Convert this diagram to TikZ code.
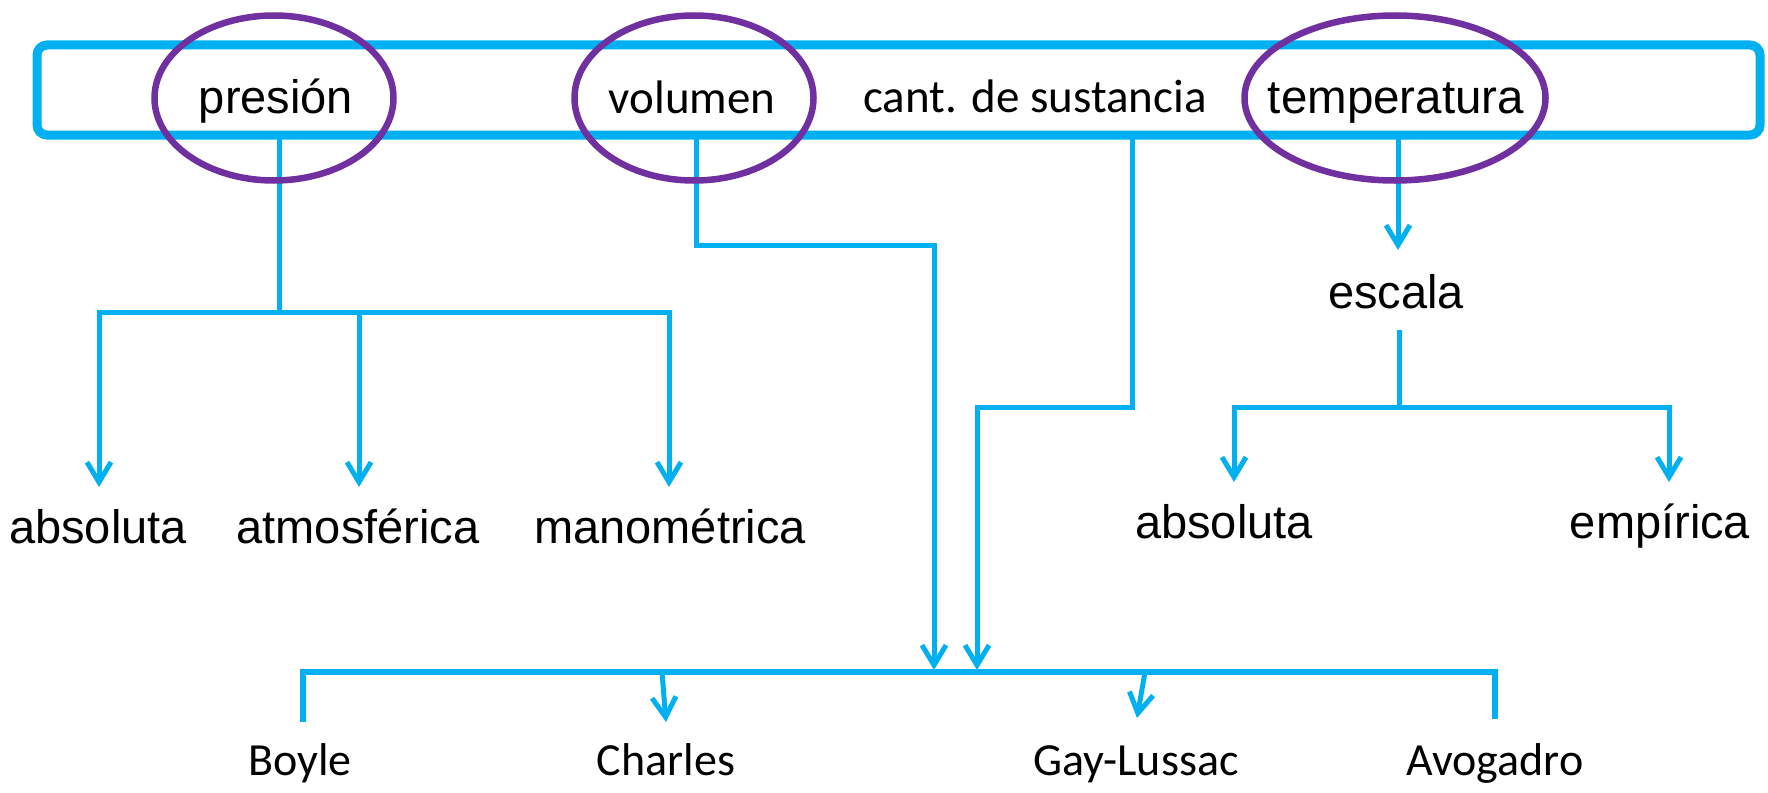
\documentclass[tikz,border=0pt]{standalone}
\usepackage{fontspec}
\setmainfont{Liberation Sans}
\newfontfamily\calibri{Carlito}
\usetikzlibrary{arrows.meta,shapes.geometric}
\definecolor{cyanline}{HTML}{00B0F0}
\definecolor{purpring}{HTML}{7030A0}
\tikzset{
  conn/.style={draw=cyanline, line width=5pt},
  arr/.style={conn, -{Straight Barb[length=20pt,width=24pt]}},
  arrboth/.style={conn, {Straight Barb[length=20pt,width=24pt]}-{Straight Barb[length=20pt,width=24pt]}},
  ring/.style={draw=purpring, line width=6.5pt, ellipse, inner sep=0pt},
  arialtxt/.style={font=\fontsize{47}{56}\selectfont, anchor=base, inner sep=0pt},
  caltxt/.style={font=\calibri\fontsize{47}{56}\selectfont, anchor=base, inner sep=0pt},
  lowtxt/.style={font=\calibri\fontsize{46}{54}\selectfont, anchor=base, inner sep=0pt},
}
\begin{document}
\begin{tikzpicture}[x=1pt,y=-1pt]
\useasboundingbox (0,0) rectangle (1768,792);
% main box
\node[draw=cyanline, line width=9pt, rounded corners=10pt, minimum width=1723pt, minimum height=90pt, inner sep=0pt] (box) at (898.5,90) {};

% coordinates
\coordinate (pTop) at (279,135);
\coordinate (pJ) at (279,312);
\coordinate (pL) at (99,312);
\coordinate (pM) at (359,312);
\coordinate (pR) at (669,312);
\coordinate (t1) at (99,487);
\coordinate (t2) at (359,487);
\coordinate (t3) at (669,487);

\coordinate (vTop) at (696,135);
\coordinate (v1) at (696,245);
\coordinate (v2) at (934,245);
\coordinate (vTip) at (934,670);

\coordinate (cTop) at (1132,135);
\coordinate (c1) at (1132,407);
\coordinate (c2) at (977,407);
\coordinate (cTip) at (977,670);

\coordinate (tTop) at (1398,135);
\coordinate (tTip) at (1398,250);

\coordinate (eTop) at (1399,330);
\coordinate (eJ) at (1399,407);
\coordinate (eL) at (1234,407);
\coordinate (eR) at (1669,407);
\coordinate (e1) at (1234,482);
\coordinate (e2) at (1669,482);

\coordinate (bL) at (303,672);
\coordinate (bR) at (1495,672);
\coordinate (bBoy) at (303,722);
\coordinate (bAvo) at (1495,719);
\coordinate (bCh) at (662,672);
\coordinate (bChT) at (666,722);
\coordinate (bGL) at (1145,672);
\coordinate (bGLT) at (1137,718);

% connectors
\draw[conn] (pTop) -- (pJ);
\draw[arrboth] (t1) -- (pL) -- (pR) -- (t3);
\draw[arr] (pM) -- (t2);

\draw[arr] (vTop) -- (v1) -- (v2) -- (vTip);
\draw[arr] (cTop) -- (c1) -- (c2) -- (cTip);
\draw[arr] (tTop) -- (tTip);

\draw[conn] (eTop) -- (eJ);
\draw[arrboth] (e1) -- (eL) -- (eR) -- (e2);

\draw[conn, line width=6pt] (bBoy) -- (bL) -- (bR) -- (bAvo);
\draw[arr] (bCh) -- (bChT);
\draw[arr] (bGL) -- (bGLT);

% ellipses
\node[ring, minimum width=239pt, minimum height=165pt] (ePres) at (274,98) {};
\node[ring, minimum width=239pt, minimum height=165pt] (eVol) at (694,98) {};
\node[ring, minimum width=301pt, minimum height=165pt] (eTemp) at (1395,98) {};

% texts
\node[arialtxt] (presion) at (276,113) {presión};
\node[caltxt] (volumen) at (692,113) {volumen};
\node[caltxt] (cant) at (1035,112) {cant. de sustancia};
\node[arialtxt, font=\fontsize{47.5}{56}\selectfont] (temp) at (1396,113) {temperatura};

\node[arialtxt] (escala) at (1396,308) {escala};

\node[arialtxt] (absL) at (98,543) {absoluta};
\node[arialtxt] (atm) at (358,543) {atmosférica};
\node[arialtxt] (mano) at (670,543) {manométrica};

\node[arialtxt] (absR) at (1224,538) {absoluta};
\node[arialtxt] (emp) at (1660,538) {empírica};

\node[lowtxt] (boyle) at (300,775) {Boyle};
\node[lowtxt] (charles) at (666,775) {Charles};
\node[lowtxt] (gay) at (1136,775) {Gay-Lussac};
\node[lowtxt] (avo) at (1495,775) {Avogadro};
\end{tikzpicture}
\end{document}
